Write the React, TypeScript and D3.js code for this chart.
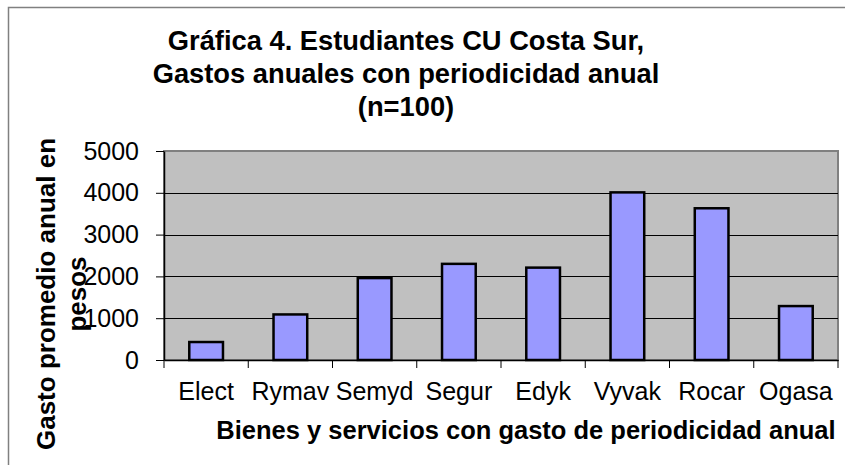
import * as d3 from "d3";
import { useEffect, useRef } from "react";

const categories: string[] = ["Elect", "Rymav", "Semyd", "Segur", "Edyk", "Vyvak", "Rocar", "Ogasa"];
const gastos: number[] = [430, 1090, 1960, 2300, 2210, 4010, 3630, 1290];
const yTicks: number[] = [0, 1000, 2000, 3000, 4000, 5000];
const titleLines: string[] = [
  "Gráfica 4. Estudiantes CU Costa Sur,",
  "Gastos anuales con periodicidad anual",
  "(n=100)",
];
const yLabelLines: string[] = ["Gasto promedio anual en", "pesos"];
const xLabel = "Bienes y servicios con gasto de periodicidad anual";

const width = 845;
const height = 465;
const marginTop = 151;
const marginRight = 7;
const marginBottom = 105;
const marginLeft = 164;
const font = "'Liberation Sans', Arial, sans-serif";

export default function App() {
  const svgRef = useRef<SVGSVGElement>(null);

  useEffect(() => {
    const svg = d3.select(svgRef.current);
    svg.selectAll("*").remove();

    // marco exterior del grafico
    svg
      .append("rect")
      .attr("x", 8.5)
      .attr("y", 7.5)
      .attr("width", 900)
      .attr("height", 600)
      .attr("fill", "#ffffff")
      .attr("stroke", "#808080")
      .attr("stroke-width", 1.5);

    const x = d3
      .scaleBand<string>()
      .domain(categories)
      .range([marginLeft, width - marginRight])
      .paddingInner(0.6)
      .paddingOuter(0.3);

    const xOuter = d3
      .scaleBand<string>()
      .domain(categories)
      .range([marginLeft, width - marginRight]);

    const y = d3
      .scaleLinear()
      .domain([0, 5000])
      .range([height - marginBottom, marginTop]);

    // area de trazado
    svg
      .append("rect")
      .attr("x", marginLeft)
      .attr("y", marginTop)
      .attr("width", width - marginRight - marginLeft)
      .attr("height", y(0) - marginTop)
      .attr("fill", "#c0c0c0")
      .attr("stroke", "#808080")
      .attr("stroke-width", 2);

    // lineas de cuadricula
    svg
      .append("g")
      .selectAll("line")
      .data(yTicks.filter((d) => d > 0 && d < 5000))
      .enter()
      .append("line")
      .attr("x1", marginLeft)
      .attr("x2", width - marginRight)
      .attr("y1", (d) => Math.round(y(d)) + 0.5)
      .attr("y2", (d) => Math.round(y(d)) + 0.5)
      .attr("stroke", "#000000");

    // barras
    svg
      .append("g")
      .selectAll("rect")
      .data(gastos)
      .enter()
      .append("rect")
      .attr("x", (d, i) => x(categories[i]) as number)
      .attr("y", (d) => y(d))
      .attr("width", x.bandwidth())
      .attr("height", (d) => y(0) - y(d))
      .attr("fill", "#9999ff")
      .attr("stroke", "#000000")
      .attr("stroke-width", 2.5);

    // eje Y
    const yAxis = svg
      .append("g")
      .attr("transform", `translate(${marginLeft},0)`)
      .call(
        d3
          .axisLeft(y)
          .tickValues(yTicks)
          .tickFormat(d3.format("d"))
          .tickSize(8)
          .tickPadding(17)
          .tickSizeOuter(0)
      );
    yAxis.select(".domain").attr("stroke", "#000000").attr("stroke-width", 1.5);
    yAxis.selectAll("line").attr("stroke", "#000000");
    yAxis
      .selectAll("text")
      .attr("font-family", font)
      .attr("font-size", 25)
      .attr("fill", "#000000");

    // eje X
    const xAxis = svg
      .append("g")
      .attr("transform", `translate(0,${y(0)})`)
      .call(d3.axisBottom(xOuter).tickSize(0).tickSizeOuter(0));
    xAxis.select(".domain").attr("stroke", "#000000").attr("stroke-width", 1.5);
    xAxis
      .selectAll("text")
      .attr("y", 40)
      .attr("dy", 0)
      .attr("font-family", font)
      .attr("font-size", 25)
      .attr("fill", "#000000");

    // marcas entre categorias
    svg
      .append("g")
      .selectAll("line")
      .data(categories.concat(["fin"]))
      .enter()
      .append("line")
      .attr("x1", (d, i) => marginLeft + i * xOuter.step())
      .attr("x2", (d, i) => marginLeft + i * xOuter.step())
      .attr("y1", y(0))
      .attr("y2", y(0) + 8)
      .attr("stroke", "#000000");

    // titulo
    svg
      .append("text")
      .attr("x", 406)
      .attr("y", 50)
      .attr("text-anchor", "middle")
      .attr("font-family", font)
      .attr("font-weight", "bold")
      .attr("font-size", 27.3)
      .selectAll("tspan")
      .data(titleLines)
      .enter()
      .append("tspan")
      .attr("x", 406)
      .attr("dy", (d, i) => (i === 0 ? 0 : 33))
      .text((d) => d);

    // titulo eje Y
    svg
      .append("g")
      .selectAll("text")
      .data(yLabelLines)
      .enter()
      .append("text")
      .attr("transform", (d, i) => `translate(${i === 0 ? 55 : 85.5},294) rotate(-90)`)
      .attr("text-anchor", "middle")
      .attr("font-family", font)
      .attr("font-weight", "bold")
      .attr("font-size", 26)
      .text((d) => d);

    // titulo eje X
    svg
      .append("text")
      .attr("x", 526)
      .attr("y", 439)
      .attr("text-anchor", "middle")
      .attr("font-family", font)
      .attr("font-weight", "bold")
      .attr("font-size", 25.5)
      .text(xLabel);
  }, []);

  return (
    <svg
      ref={svgRef}
      width={width}
      height={height}
      style={{ position: "absolute", left: 0, top: 0, background: "#ffffff" }}
    />
  );
}
